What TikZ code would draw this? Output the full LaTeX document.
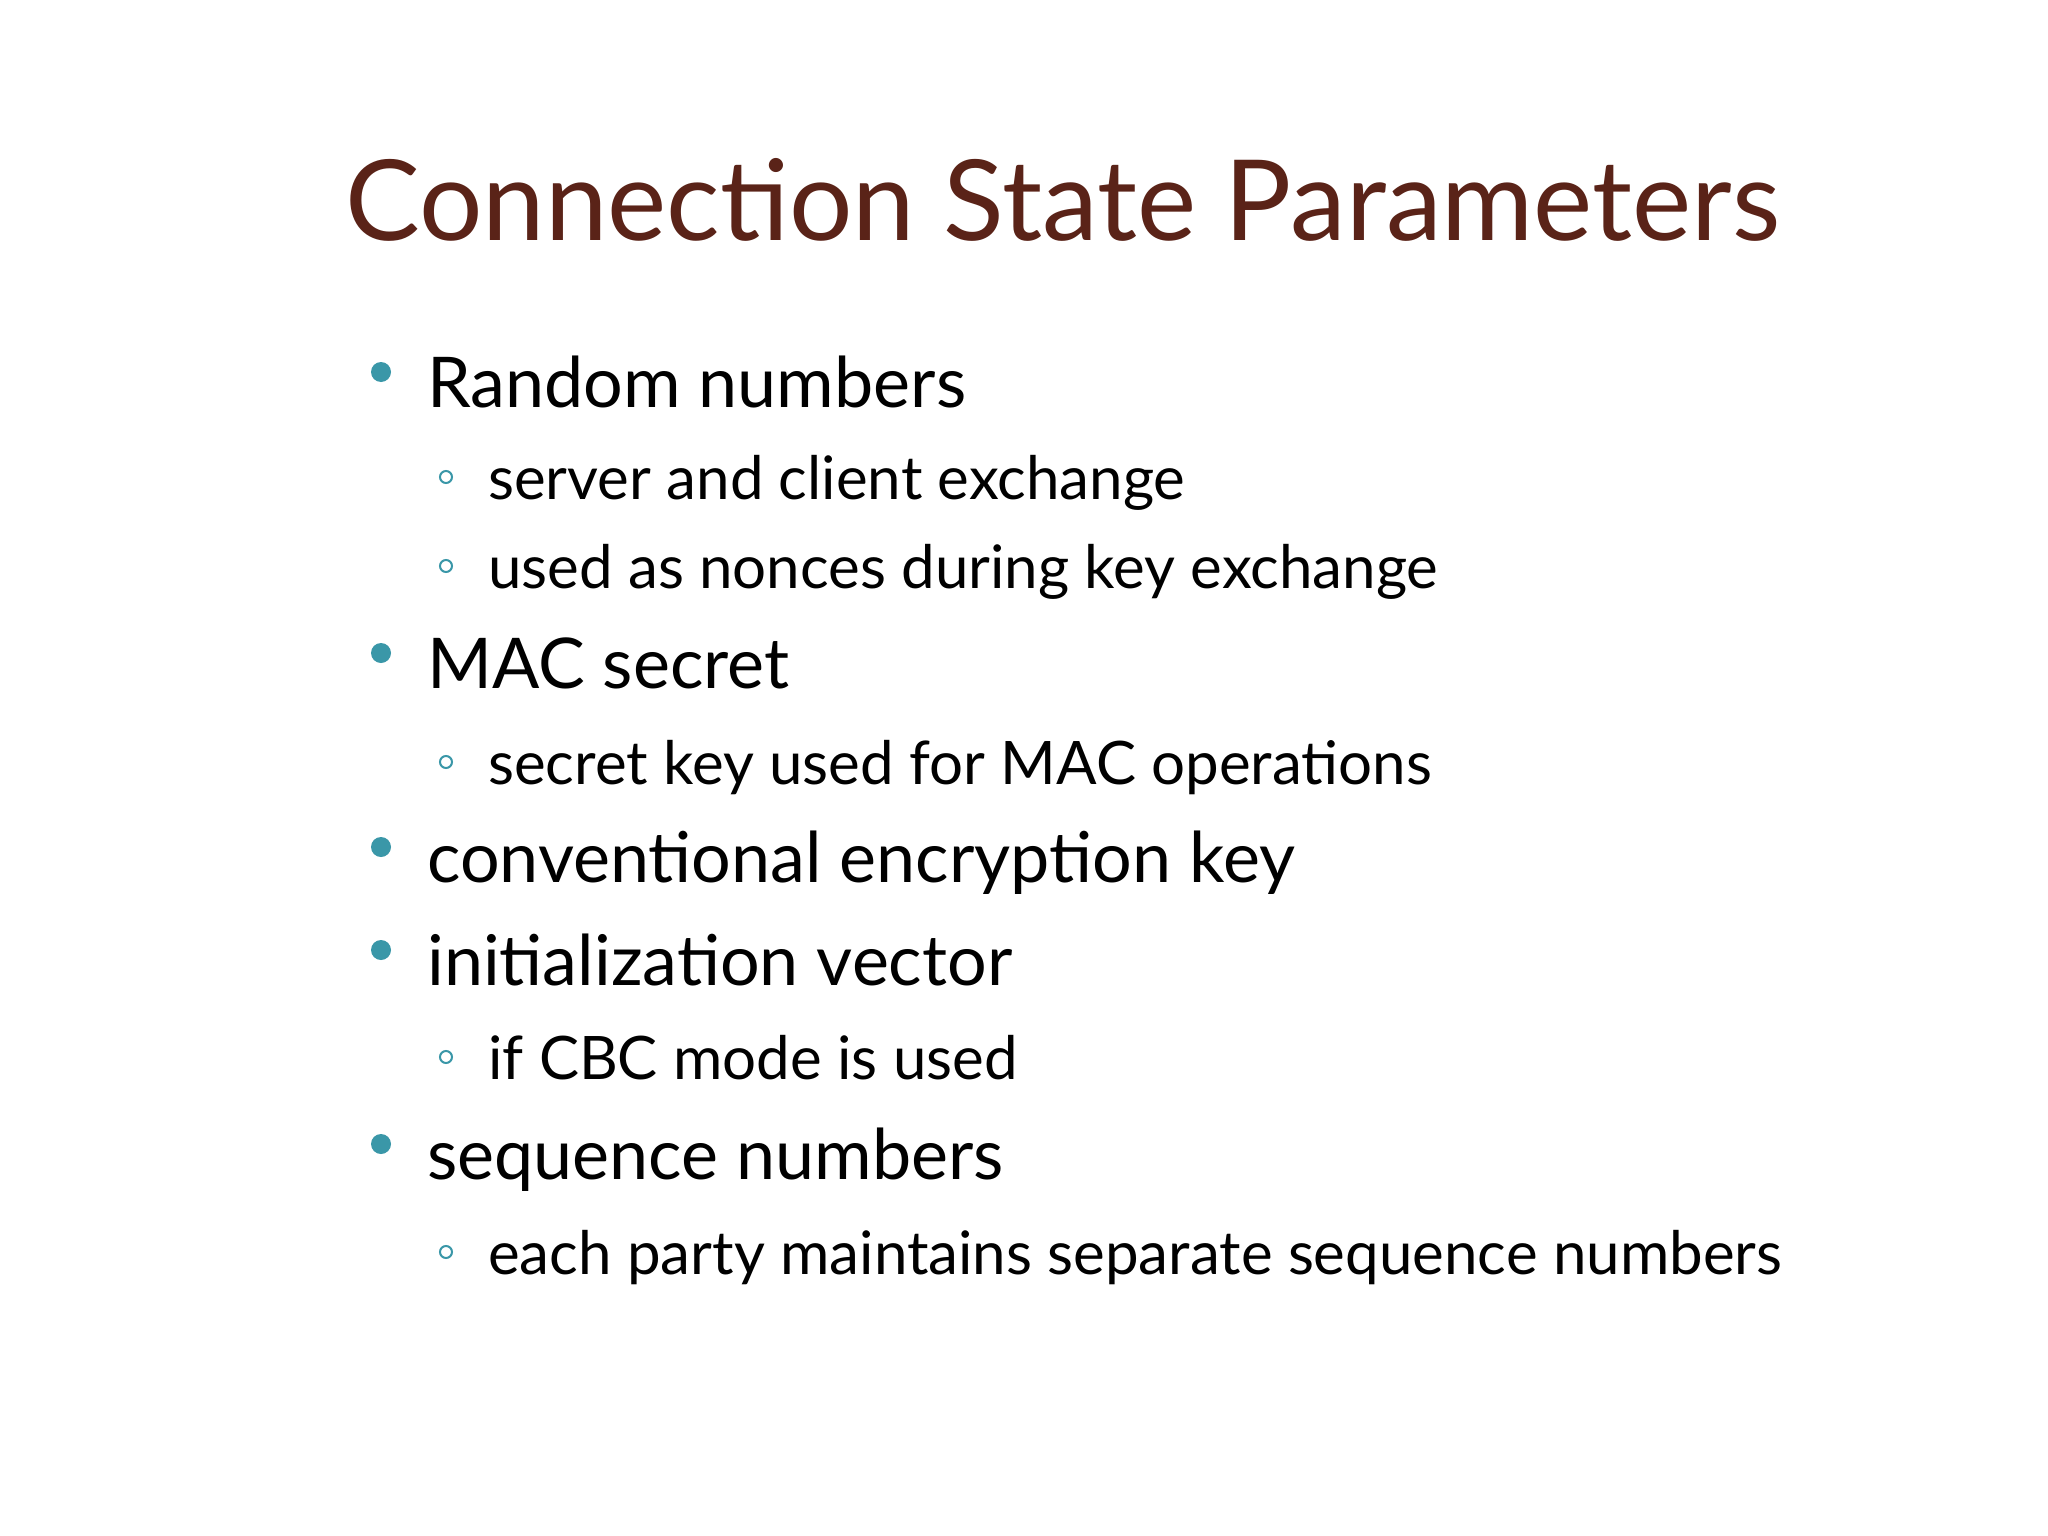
\documentclass[tikz,border=0pt]{standalone}
\usepackage{fontspec}
\setmainfont{Lato}
\definecolor{titlec}{HTML}{5A2318}
\definecolor{bul}{HTML}{3A97A8}
\begin{document}
\begin{tikzpicture}[x=1pt,y=-1pt,
  lone/.style={anchor=base west,inner sep=0pt,font=\fontsize{70}{80}\selectfont},
  ltwo/.style={anchor=base west,inner sep=0pt,font=\fontsize{60}{70}\selectfont},
  dotb/.style={fill=bul,draw=none},
  ringb/.style={draw=bul,line width=2pt}]
\useasboundingbox[fill=white] (0,0) rectangle (2048,1536);
\node[anchor=base west,inner sep=0pt,text=titlec,font=\fontsize{112}{120}\selectfont] (title) at (345,240) {Connection State Parameters};
\foreach \n/\y/\t in {a/407/Random numbers, b/688/MAC secret, c/882/conventional encryption key, d/985/initialization vector, e/1179/sequence numbers}{
  \node[lone] (\n) at (427,\y) {\t};
  \fill[dotb] (381,\y-35) circle (10);
}
\foreach \n/\y/\t in {a1/499/server and client exchange, a2/588/used as nonces during key exchange, b1/784/secret key used for MAC operations, d1/1079/if CBC mode is used, e1/1274/each party maintains separate sequence numbers}{
  \node[ltwo] (\n) at (488,\y) {\t};
  \draw[ringb] (446,\y-22) circle (6);
}
\end{tikzpicture}
\end{document}
